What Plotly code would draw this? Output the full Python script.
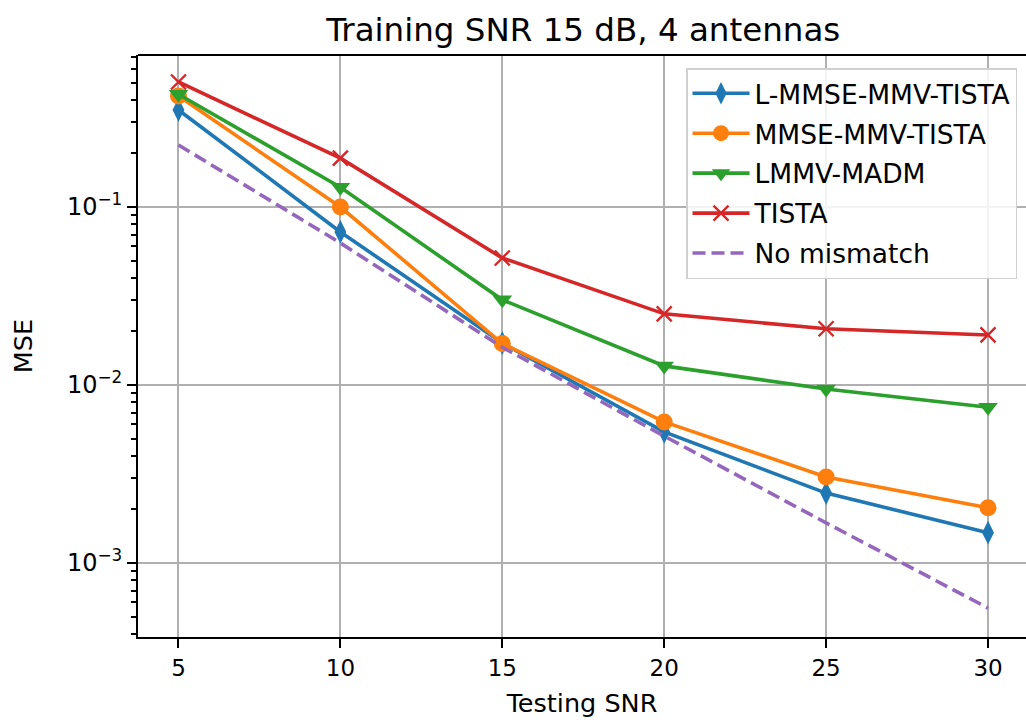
import plotly.graph_objects as go

# ---- data ----
snr = [5, 10, 15, 20, 25, 30]
l_mmse_mmv_tista = [0.351, 0.0724, 0.0172, 0.00545, 0.00247, 0.00148]
mmse_mmv_tista = [0.42, 0.100, 0.0171, 0.0062, 0.00304, 0.00204]
lmmv_madm = [0.43, 0.129, 0.0301, 0.0128, 0.0095, 0.0075]
tista = [0.504, 0.188, 0.0517, 0.0251, 0.0207, 0.0191]
no_mismatch = [0.223, 0.0628, 0.0163, 0.00516, 0.00168, 0.000558]

series_names = ["L-MMSE-MMV-TISTA", "MMSE-MMV-TISTA", "LMMV-MADM", "TISTA", "No mismatch"]
x_ticks = [5, 10, 15, 20, 25, 30]
y_ticks = [1e-3, 1e-2, 1e-1]
y_tick_text = ["10<sup>−3</sup>", "10<sup>−2</sup>", "10<sup>−1</sup>"]

FONT = "DejaVu Sans"
W, H = 1026, 720
L, T, B = 137.5, 55, 637

fig = go.Figure()

lw = 3.6
fig.add_trace(go.Scatter(x=snr, y=l_mmse_mmv_tista, name=series_names[0], mode="lines+markers",
                         legendgroup="g1",
                         line=dict(color="#1f77b4", width=lw),
                         marker=dict(symbol="diamond-tall", size=17, color="#1f77b4")))
fig.add_trace(go.Scatter(x=snr, y=mmse_mmv_tista, name=series_names[1], mode="lines+markers",
                         legendgroup="g2",
                         line=dict(color="#ff7f0e", width=lw),
                         marker=dict(symbol="circle", size=17, color="#ff7f0e")))
fig.add_trace(go.Scatter(x=snr, y=lmmv_madm, name=series_names[2], mode="lines+markers",
                         legendgroup="g3",
                         line=dict(color="#2ca02c", width=lw),
                         marker=dict(symbol="triangle-down", size=17, color="#2ca02c")))
fig.add_trace(go.Scatter(x=snr, y=tista, name=series_names[3], mode="lines+markers",
                         legendgroup="g4",
                         line=dict(color="#d62728", width=lw),
                         marker=dict(symbol="x-thin", size=15, color="#d62728",
                                     line=dict(color="#d62728", width=2.4))))
fig.add_trace(go.Scatter(x=snr, y=no_mismatch, name=series_names[4], mode="lines",
                         legendgroup="g5",
                         line=dict(color="#9467bd", width=lw, dash="13px,6px")))

minor_vals = []
for dec in [1e-4, 1e-3, 1e-2, 1e-1]:
    for m in range(2, 10):
        minor_vals.append(m * dec)

xr = [3.75, 3.75 + (W - L) / 32.4]
fig.update_layout(
    width=W, height=H,
    margin=dict(l=L, r=0, t=T, b=H - B, pad=0),
    paper_bgcolor="white", plot_bgcolor="white",
    font=dict(family=FONT, color="black", size=25),
    title=dict(text="Training SNR 15 dB, 4 antennas", x=(583 - L) / (W - L), xref="paper",
               xanchor="center", y=1 - 30 / H, yanchor="middle", yref="container",
               font=dict(size=32.5, family=FONT, color="black")),
    xaxis=dict(range=xr, tickmode="array", tickvals=x_ticks, ticktext=[str(v) for v in x_ticks],
               showgrid=True, gridcolor="#b0b0b0", gridwidth=2,
               showline=True, linecolor="black", linewidth=2, mirror=False,
               ticks="outside", ticklen=9, tickwidth=2, tickcolor="black",
               tickfont=dict(size=23, family=FONT), zeroline=False,
               title=dict(text="Testing SNR", font=dict(size=25.5, family=FONT), standoff=15)),
    yaxis=dict(type="log", range=[-3.416, -0.146], tickmode="array", tickvals=y_ticks,
               ticktext=y_tick_text,
               showgrid=True, gridcolor="#b0b0b0", gridwidth=2,
               showline=True, linecolor="black", linewidth=2, mirror=False,
               ticks="outside", ticklen=9, tickwidth=2, tickcolor="black",
               tickfont=dict(size=24, family=FONT), zeroline=False,
               minor=dict(tickmode="array", tickvals=minor_vals, ticks="outside", ticklen=5,
                          tickwidth=1.6, tickcolor="black", showgrid=False),
               title=dict(text="MSE", font=dict(size=25.5, family=FONT), standoff=27)),
    legend=dict(x=(1017 - L) / (W - L), xanchor="right", y=(B - 68) / (B - T), yanchor="top",
                bgcolor="rgba(255,255,255,0.85)", bordercolor="#d0d0d0", borderwidth=1.5,
                font=dict(size=26.5, family=FONT), itemwidth=57, tracegroupgap=2.5,
                traceorder="grouped"),
    shapes=[dict(type="line", xref="paper", yref="paper", x0=0, x1=1.01, y0=1, y1=1,
                 line=dict(color="black", width=2))],
)

fig.write_html("out.html")
